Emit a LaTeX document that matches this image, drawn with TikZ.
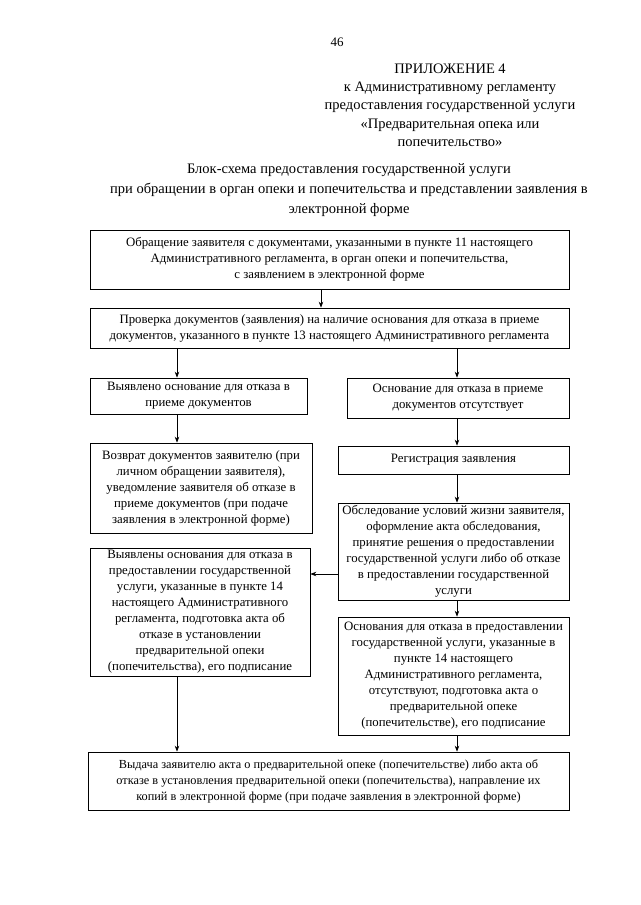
\documentclass[tikz,border=0pt]{standalone}
\usepackage{fontspec}
\setmainfont{Liberation Serif}
\usetikzlibrary{arrows.meta}
\begin{document}
\begin{tikzpicture}[x=1pt,y=-1pt,
  box/.style={draw, line width=0.7pt, rectangle, align=center, inner sep=2pt,
    font=\fontsize{12.8}{16}\selectfont},
  arr/.style={-{Stealth[length=6pt,width=4.5pt]}, line width=0.7pt},
  hdr/.style={align=center, inner sep=0pt, font=\fontsize{14.5}{18.3}\selectfont},
  ttl/.style={align=center, inner sep=0pt, font=\fontsize{14.5}{20}\selectfont}]
\path[fill=white] (0,0) rectangle (640,905);

\node[hdr, font=\fontsize{13}{15}\selectfont] (pg) at (337,42) {46};
\node[hdr] (app) at (450,105) {ПРИЛОЖЕНИЕ 4\\ к Административному регламенту\\ предоставления государственной услуги\\ «Предварительная опека или\\ попечительство»};
\node[ttl] (title) at (349,190) {Блок-схема предоставления государственной услуги\\ при обращении в орган опеки и попечительства и представлении заявления в\\ электронной форме};

\node[box, minimum width=479pt, minimum height=59pt] (b1) at (329.5,259.5) {Обращение заявителя с документами, указанными в пункте 11 настоящего\\ Административного регламента, в орган опеки и попечительства,\\ с заявлением в электронной форме};
\node[box, minimum width=479pt, minimum height=40pt] (b2) at (329.5,328) {Проверка документов (заявления) на наличие основания для отказа в приеме\\ документов, указанного в пункте 13 настоящего Административного регламента};
\node[box, minimum width=217pt, minimum height=36pt] (bA) at (198.5,396) {Выявлено основание для отказа в\\ приеме документов};
\node[box, minimum width=222pt, minimum height=40pt] (bB) at (458,398) {Основание для отказа в приеме\\ документов отсутствует};
\node[box, minimum width=222pt, minimum height=90pt] (bC) at (201,488) {Возврат документов заявителю (при\\ личном обращении заявителя),\\ уведомление заявителя об отказе в\\ приеме документов (при подаче\\ заявления в электронной форме)};
\node[box, minimum width=231pt, minimum height=28pt] (bD) at (453.5,460) {Регистрация заявления};
\node[box, minimum width=231pt, minimum height=97pt] (bE) at (453.5,551.5) {Обследование условий жизни заявителя,\\ оформление акта обследования,\\ принятие решения о предоставлении\\ государственной услуги либо об отказе\\ в предоставлении государственной\\ услуги};
\node[box, minimum width=220pt, minimum height=128pt] (bF) at (200,612) {Выявлены основания для отказа в\\ предоставлении государственной\\ услуги, указанные в пункте 14\\ настоящего Административного\\ регламента, подготовка акта об\\ отказе в установлении\\ предварительной опеки\\ (попечительства), его подписание};
\node[box, minimum width=231pt, minimum height=118pt] (bG) at (453.5,676) {Основания для отказа в предоставлении\\ государственной услуги, указанные в\\ пункте 14 настоящего\\ Административного регламента,\\ отсутствуют, подготовка акта о\\ предварительной опеке\\ (попечительстве), его подписание};
\node[box, minimum width=481pt, minimum height=58pt, font=\fontsize{12.3}{16}\selectfont] (bH) at (328.5,781) {Выдача заявителю акта о предварительной опеке (попечительстве) либо акта об\\ отказе в установления предварительной опеки (попечительства), направление их\\ копий в электронной форме (при подаче заявления в электронной форме)};

\coordinate (xm) at (321,0);
\coordinate (xl) at (177,0);
\coordinate (xr) at (457,0);
\coordinate (yh) at (0,574);

\draw[arr] (b1.south -| xm) -- (b2.north -| xm);
\draw[arr] (b2.south -| xl) -- (bA.north -| xl);
\draw[arr] (b2.south -| xr) -- (bB.north -| xr);
\draw[arr] (bA.south -| xl) -- (bC.north -| xl);
\draw[arr] (bB.south -| xr) -- (bD.north -| xr);
\draw[arr] (bD.south -| xr) -- (bE.north -| xr);
\draw[arr] (bE.west |- yh) -- (bF.east |- yh);
\draw[arr] (bE.south -| xr) -- (bG.north -| xr);
\draw[arr] (bF.south -| xl) -- (bH.north -| xl);
\draw[arr] (bG.south -| xr) -- (bH.north -| xr);
\end{tikzpicture}
\end{document}
